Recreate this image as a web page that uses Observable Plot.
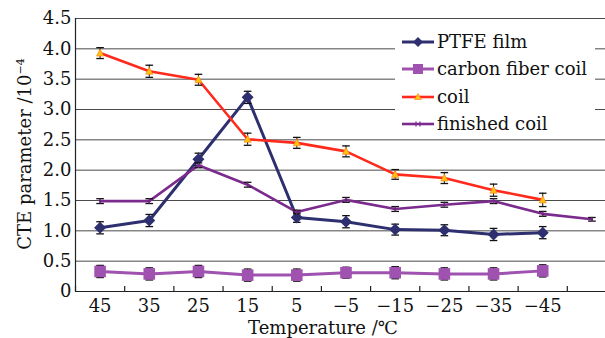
<!DOCTYPE html>
<html><head><meta charset="utf-8">
<script src="https://cdn.jsdelivr.net/npm/d3@7"></script>
<script src="https://cdn.jsdelivr.net/npm/@observablehq/plot@0.6"></script>
<style>
body{margin:0;background:#fff;overflow:hidden;}
#wrap{position:relative;width:605px;height:338px;overflow:hidden;font-family:"DejaVu Serif",serif;color:#111;}
#wrap svg.plot{position:absolute;left:0;top:0;}
.legend{position:absolute;left:395px;top:21px;width:200px;height:116px;background:#fff;}
.row{position:absolute;left:7px;height:22px;line-height:22px;font-size:18px;white-space:nowrap;display:flex;align-items:center;}
.row svg{margin-right:3px;}
.ytitle{position:absolute;left:24px;top:154px;transform:translate(-50%,-50%) rotate(-90deg);font-size:18px;white-space:nowrap;}
.ytitle sup{font-size:11px;vertical-align:0;position:relative;top:-7px;}
.xtitle{position:absolute;left:323px;top:320px;transform:translateX(-50%);font-size:18px;line-height:16px;white-space:nowrap;}
</style></head><body><div id="wrap"></div>
<script>
const categories = ["45","35","25","15","5","−5","−15","−25","−35","−45",""];
const yTicks = [0,0.5,1.0,1.5,2.0,2.5,3.0,3.5,4.0,4.5];
const seriesNames = ["PTFE film","carbon fiber coil","coil","finished coil"];
const ptfe     = [1.05,1.17,2.18,3.20,1.22,1.15,1.02,1.01,0.94,0.97];
const ptfeErr  = [0.10,0.10,0.10,0.10,0.08,0.10,0.09,0.09,0.10,0.10];
const carbon   = [0.33,0.29,0.33,0.27,0.27,0.31,0.31,0.29,0.29,0.34];
const carbonErr= [0.10,0.10,0.10,0.10,0.10,0.09,0.10,0.10,0.10,0.10];
const coil     = [3.93,3.63,3.49,2.51,2.45,2.31,1.93,1.87,1.67,1.51];
const coilErr  = [0.09,0.10,0.09,0.10,0.09,0.09,0.08,0.09,0.10,0.11];
const finished = [1.49,1.49,2.08,1.76,1.31,1.51,1.36,1.43,1.49,1.28,1.19];
const finErr   = [0.04,0.04,0.04,0.04,0.03,0.04,0.04,0.04,0.04,0.04,0.03];
const colors = ["#2e2f6e","#a052b0","#ff2a1c","#7b2a8e"];

const mk = (vals, errs) => vals.map((v,i)=>({i, v, e: errs[i]}));
const dPtfe = mk(ptfe, ptfeErr), dCarbon = mk(carbon, carbonErr), dCoil = mk(coil, coilErr), dFin = mk(finished, finErr);
const idx = categories.map((_, i) => i);
const boundaries = idx.map(i => i - 0.5).concat([categories.length - 0.5]);

const rad = size => Math.sqrt(size / Math.PI);
const diamond = {draw(c,s){const r=rad(s);c.moveTo(0,-r);c.lineTo(r,0);c.lineTo(0,r);c.lineTo(-r,0);c.closePath();}};
const square = {draw(c,s){const r=rad(s);c.rect(-r,-r,2*r,2*r);}};
const triangle = {draw(c,s){const r=rad(s);c.moveTo(0,-r);c.lineTo(r*0.9,r*0.75);c.lineTo(-r*0.9,r*0.75);c.closePath();}};
const cap = {draw(c,s){const r=rad(s);c.moveTo(-r,0);c.lineTo(r,0);}};
const vtick = {draw(c,s){const r=rad(s);c.moveTo(0,-r);c.lineTo(0,r);}};

function errorBars(data){
  return [
    Plot.ruleX(data, {x:"i", y1:d=>d.v-d.e, y2:d=>d.v+d.e, stroke:"#111", strokeWidth:1}),
    Plot.dot(data, {x:"i", y:d=>d.v-d.e, symbol:cap, r:3.8, stroke:"#111", strokeWidth:1.3}),
    Plot.dot(data, {x:"i", y:d=>d.v+d.e, symbol:cap, r:3.8, stroke:"#111", strokeWidth:1.3})
  ];
}

const chart = Plot.plot({
  width:605, height:338, marginTop:18, marginBottom:47, marginLeft:75, marginRight:-11,
  x:{type:"linear", domain:[-0.5, categories.length - 0.5]},
  y:{domain:[0,4.5]},
  style:{fontFamily:"DejaVu Serif", fontSize:"18px", color:"#111", background:"transparent", overflow:"hidden"},
  marks:[
    Plot.ruleY(yTicks.slice(1), {stroke:"#4a4a4a", strokeWidth:1}),
    Plot.ruleY([0], {stroke:"#222", strokeWidth:1.2}),
    Plot.frame({anchor:"left", stroke:"#222", strokeWidth:1.2}),
    Plot.ruleX(boundaries, {insetTop:268, stroke:"#222", strokeWidth:1.2}),
    Plot.axisY({ticks:yTicks, tickSize:0, tickPadding:4, tickFormat:d=>d===0?"0":d.toFixed(1), label:null}),
    Plot.axisX({ticks:idx, tickSize:0, tickPadding:8, tickFormat:i=>categories[i], label:null}),
    // PTFE film
    Plot.line(dPtfe, {x:"i", y:"v", stroke:colors[0], strokeWidth:3}),
    ...errorBars(dPtfe),
    Plot.dot(dPtfe, {x:"i", y:"v", symbol:diamond, r:6, fill:colors[0]}),
    // carbon fiber coil
    Plot.line(dCarbon, {x:"i", y:"v", stroke:colors[1], strokeWidth:3}),
    ...errorBars(dCarbon),
    Plot.dot(dCarbon, {x:"i", y:"v", symbol:square, r:5.8, fill:colors[1]}),
    // coil
    Plot.line(dCoil, {x:"i", y:"v", stroke:colors[2], strokeWidth:2.6}),
    ...errorBars(dCoil),
    Plot.dot(dCoil, {x:"i", y:"v", symbol:triangle, r:4, fill:"#ffc20e", stroke:"#ff7a1a", strokeWidth:0.6}),
    // finished coil
    Plot.line(dFin, {x:"i", y:"v", stroke:colors[3], strokeWidth:2.6}),
    ...errorBars(dFin),
    Plot.dot(dFin, {x:"i", y:"v", symbol:vtick, r:2.5, stroke:colors[3], strokeWidth:1.2})
  ]
});

const wrap = document.getElementById("wrap");
wrap.appendChild(chart);

const swatch = [
  `<svg width="32" height="14"><line x1="0" y1="7" x2="32" y2="7" stroke="${colors[0]}" stroke-width="3"/><path d="M16 2 L21 7 L16 12 L11 7Z" fill="${colors[0]}"/></svg>`,
  `<svg width="32" height="14"><line x1="0" y1="7" x2="32" y2="7" stroke="${colors[1]}" stroke-width="3"/><rect x="11" y="2" width="10" height="10" fill="${colors[1]}"/></svg>`,
  `<svg width="32" height="14"><line x1="0" y1="7" x2="32" y2="7" stroke="${colors[2]}" stroke-width="2.6"/><path d="M16 3.5 L19.5 9.5 L12.5 9.5Z" fill="#ffc20e" stroke="#ff7a1a" stroke-width="0.6"/></svg>`,
  `<svg width="32" height="14"><line x1="0" y1="7" x2="32" y2="7" stroke="${colors[3]}" stroke-width="2.6"/><line x1="14" y1="4.5" x2="14" y2="9.5" stroke="${colors[3]}" stroke-width="1.2"/><line x1="18" y1="4.5" x2="18" y2="9.5" stroke="${colors[3]}" stroke-width="1.2"/></svg>`
];
const rowTops = [10, 37, 65, 92];
const legend = document.createElement("div");
legend.className = "legend";
legend.innerHTML = seriesNames.map((n,k)=>`<div class="row" style="top:${rowTops[k]}px">${swatch[k]}<span>${n}</span></div>`).join("");
wrap.appendChild(legend);

const yt = document.createElement("div");
yt.className = "ytitle";
yt.innerHTML = "CTE parameter /10<sup>−4</sup>";
wrap.appendChild(yt);

const xt = document.createElement("div");
xt.className = "xtitle";
xt.textContent = "Temperature /℃";
wrap.appendChild(xt);
</script></body></html>
